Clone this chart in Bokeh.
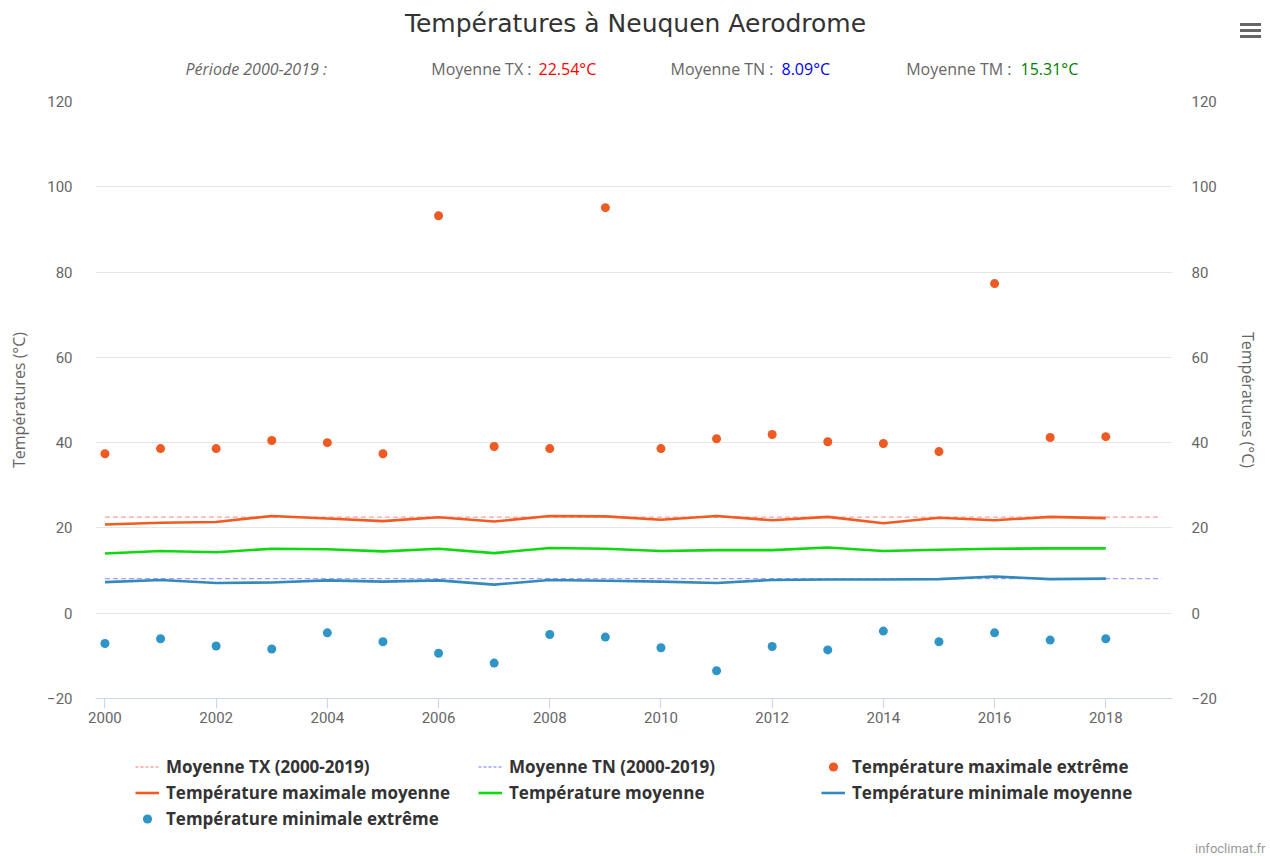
from bokeh.plotting import figure
from bokeh.models import LinearAxis, Legend, LegendItem, FixedTicker, Range1d
from bokeh.embed import file_html
from bokeh.resources import INLINE
from bokeh.core.properties import value

# ---------------- data ----------------
years = list(range(2000, 2019))
tx_moy = [20.8, 21.2, 21.4, 22.8, 22.2, 21.6, 22.5, 21.5, 22.8, 22.7,
          21.9, 22.8, 21.8, 22.6, 21.1, 22.4, 21.8, 22.6, 22.3]
tm_moy = [14.0, 14.6, 14.3, 15.1, 15.0, 14.5, 15.1, 14.1, 15.3, 15.1,
          14.6, 14.8, 14.8, 15.4, 14.6, 14.9, 15.1, 15.2, 15.2]
tn_moy = [7.3, 7.8, 7.1, 7.2, 7.7, 7.4, 7.7, 6.7, 7.8, 7.6,
          7.4, 7.1, 7.8, 7.9, 7.9, 8.0, 8.6, 8.0, 8.1]
tx_ext = [37.4, 38.6, 38.6, 40.5, 40.0, 37.4, 93.2, 39.1, 38.6, 95.1,
          38.6, 40.9, 41.9, 40.2, 39.8, 37.9, 77.3, 41.2, 41.4]
tn_ext = [-7.1, -6.0, -7.7, -8.4, -4.6, -6.7, -9.4, -11.7, -5.0, -5.6,
          -8.1, -13.5, -7.8, -8.6, -4.2, -6.7, -4.6, -6.3, -6.0]
mean_tx = 22.54
mean_tn = 8.09
mean_tm = 15.31
mean_x = [2000, 2019]
x_ticks = list(range(2000, 2019, 2))
y_ticks = [-20, 0, 20, 40, 60, 80, 100, 120]

title_text = "Températures à Neuquen Aerodrome"
period_text = "Période 2000-2019 :"
sub_labels = ["Moyenne TX :", "Moyenne TN :", "Moyenne TM :"]
sub_values = ["%.2f°C" % mean_tx, "%.2f°C" % mean_tn, "%.2f°C" % mean_tm]
sub_colors = ["#ff0000", "#0000ff", "#008000"]
legend_labels = ["Moyenne TX (2000-2019)", "Moyenne TN (2000-2019)",
                 "Température maximale extrême", "Température maximale moyenne",
                 "Température moyenne", "Température minimale moyenne",
                 "Température minimale extrême"]

# ---------------- colours / fonts ----------------
C_TX = "#f25a22"
C_TM = "#0ed90e"
C_TN = "#3389bb"
C_TXD = "#ff9f9f"
C_TND = "#a0a0ff"
C_TXE = "#ee5a24"
C_TNE = "#2f95c6"
GREY = "#666666"
FONT = "Roboto"
FONT2 = "Open Sans"

W = 1270
HEAD_H = 90
MAIN_TOP = 11          # frame top at page y 101
MAIN_FRAME_H = 597     # frame bottom at page y 698
MAIN_BOT = 32
MAIN_H = MAIN_TOP + MAIN_FRAME_H + MAIN_BOT
FOOT_Y0 = HEAD_H + MAIN_H
FOOT_H = 856 - FOOT_Y0
NAN = float("nan")


def blank(h):
    f = figure(width=W, height=h, output_backend="svg", toolbar_location=None,
               x_range=Range1d(0, W), y_range=Range1d(h, 0),
               x_axis_type=None, y_axis_type=None,
               min_border=0, min_border_left=0, min_border_right=0,
               min_border_top=0, min_border_bottom=0)
    f.grid.visible = False
    f.outline_line_color = None
    f.background_fill_color = "white"
    f.border_fill_color = "white"
    return f


# ---------------- header ----------------
head = blank(HEAD_H)
head.text(x=[635], y=[23], text=[title_text], text_font=value("DejaVu Sans"),
          text_font_size="25px", text_color="#333333", text_align="center",
          text_baseline="middle")
sub_y = 68
head.text(x=[185], y=[sub_y], text=[period_text], text_font=value(FONT2),
          text_font_size="16px", text_font_style="italic", text_color=GREY,
          text_align="left", text_baseline="middle")
head.text(x=[531, 773, 1011], y=[sub_y] * 3, text=sub_labels, text_font=value(FONT2),
          text_font_size="16px", text_color=GREY, text_align="right",
          text_baseline="middle")
head.text(x=[538, 781, 1020], y=[sub_y] * 3, text=sub_values, text_font=value(FONT2),
          text_font_size="16px", text_color=sub_colors, text_align="left",
          text_baseline="middle")
head.rect(x=[1250] * 3, y=[24, 30, 36], width=21, height=3, fill_color=GREY,
          line_color=None)

# ---------------- main chart ----------------
p = figure(width=W, height=MAIN_H, output_backend="svg", toolbar_location=None,
           x_range=Range1d(1999.83, 2019.2), y_range=Range1d(-20, 120),
           min_border_left=95, min_border_right=W - 1172,
           min_border_top=MAIN_TOP, min_border_bottom=MAIN_BOT)
p.outline_line_color = None
p.background_fill_color = "white"
p.border_fill_color = "white"

p.xgrid.grid_line_color = None
p.ygrid.grid_line_color = "#e6e6e6"
p.ygrid.ticker = FixedTicker(ticks=y_ticks)

overrides = {-20: "\u221220"}

xa = p.xaxis[0]
xa.ticker = FixedTicker(ticks=x_ticks)
xa.axis_line_color = "#ccd6eb"
xa.major_tick_line_color = "#ccd6eb"
xa.major_tick_out = 10
xa.major_tick_in = 0
xa.minor_tick_line_color = None
xa.major_label_text_font = FONT
xa.major_label_text_font_size = "15px"
xa.major_label_text_color = GREY
xa.major_label_standoff = 3


def style_y(ax, standoff, label_standoff):
    ax.ticker = FixedTicker(ticks=y_ticks)
    ax.major_label_overrides = overrides
    ax.axis_line_color = None
    ax.major_tick_line_color = None
    ax.minor_tick_line_color = None
    ax.major_label_text_font = FONT
    ax.major_label_text_font_size = "15px"
    ax.major_label_text_color = GREY
    ax.major_label_standoff = standoff
    ax.axis_label = "Températures (°C)"
    ax.axis_label_text_font = FONT2
    ax.axis_label_text_font_style = "normal"
    ax.axis_label_text_font_size = "16px"
    ax.axis_label_text_color = GREY
    ax.axis_label_standoff = label_standoff


style_y(p.yaxis[0], 17, 14)
ra = LinearAxis()
style_y(ra, 13, 17)
p.add_layout(ra, "right")

p.line(mean_x, [mean_tx, mean_tx], line_color=C_TXD, line_width=1.3, line_dash="5 3")
p.line(mean_x, [mean_tn, mean_tn], line_color=C_TND, line_width=1.3, line_dash="5 3")
p.line(years, tx_moy, line_color=C_TX, line_width=2.6)
p.line(years, tm_moy, line_color=C_TM, line_width=2.6)
p.line(years, tn_moy, line_color=C_TN, line_width=2.6)
p.scatter(years, tx_ext, size=9, fill_color=C_TXE, line_color=None)
p.scatter(years, tn_ext, size=9, fill_color=C_TNE, line_color=None)

# ---------------- footer: legend + credit ----------------
foot = blank(FOOT_H)
# legend swatch renderers (a single NaN point, so nothing is drawn but the swatch)
l_txd = foot.line([NAN], [NAN], line_color=C_TXD, line_width=1.3, line_dash="3 2")
l_tnd = foot.line([NAN], [NAN], line_color=C_TND, line_width=1.3, line_dash="3 2")
l_txe = foot.scatter([NAN], [NAN], size=8, fill_color=C_TXE, line_color=None)
l_tx = foot.line([NAN], [NAN], line_color=C_TX, line_width=2.6)
l_tm = foot.line([NAN], [NAN], line_color=C_TM, line_width=2.6)
l_tn = foot.line([NAN], [NAN], line_color=C_TN, line_width=2.6)
l_tne = foot.scatter([NAN], [NAN], size=8, fill_color=C_TNE, line_color=None)
rends = [l_txd, l_tnd, l_txe, l_tx, l_tm, l_tn, l_tne]

ROW_H = 23
ROW_GAP = 3
leg_h = 3 * ROW_H + 2 * ROW_GAP
leg_top = 755 - FOOT_Y0
legend = Legend(items=[LegendItem(label=t, renderers=[r]) for t, r in zip(legend_labels, rends)],
                orientation="horizontal", ncols=3,
                location=(135, FOOT_H - leg_top - leg_h),
                label_text_font=FONT2, label_text_font_style="bold",
                label_text_font_size="17px", label_text_color="#333333",
                glyph_width=24, glyph_height=ROW_H, label_standoff=7, label_width=309,
                label_height=ROW_H, spacing=ROW_GAP, padding=0, margin=0,
                border_line_color=None, background_fill_alpha=0)
foot.add_layout(legend)

foot.text(x=[1265], y=[848 - FOOT_Y0], text=["infoclimat.fr"],
          text_font=value(FONT), text_font_size="13px", text_color="#999999",
          text_align="right", text_baseline="middle")

open("out.html", "w").write(file_html([head, p, foot], INLINE))
